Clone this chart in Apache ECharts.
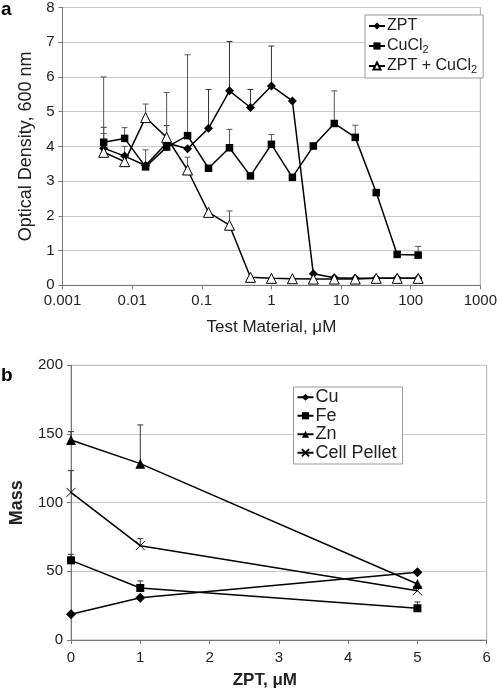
<!DOCTYPE html>
<html>
<head>
<meta charset="utf-8">
<script src="https://cdn.jsdelivr.net/npm/echarts@6/dist/echarts.min.js"></script>
<style>html,body{margin:0;padding:0;background:#fff}#c{width:500px;height:692px}</style>
</head>
<body>
<div id="c"></div>
<script>
// ---------- Panel a data ----------
const concA = [0.0039, 0.0078, 0.0156, 0.0313, 0.0625, 0.125, 0.25, 0.5, 1, 2, 4, 8, 16, 32, 64, 128];
const zptA = [3.95, 3.72, 3.45, 4.1, 3.93, 4.52, 5.60, 5.12, 5.74, 5.31, 0.33, 0.22, 0.20, 0.20, 0.20, 0.20];
const cuA = [4.12, 4.23, 3.41, 3.98, 4.31, 3.37, 3.96, 3.15, 4.06, 3.11, 4.01, 4.66, 4.26, 2.67, 0.89, 0.87];
const mixA = [3.83, 3.56, 4.83, 4.26, 3.32, 2.10, 1.73, 0.23, 0.20, 0.19, 0.18, 0.18, 0.18, 0.20, 0.20, 0.20];
const zptErrTop = [4.55, null, null, 4.6, null, 5.64, 7.02, 5.64, 6.89, null, null, null, null, null, null, null];
const cuErrTop = [6.0, 4.54, 3.9, null, 6.64, null, 4.49, null, 4.34, null, 4.1, 5.6, 4.61, null, null, 1.12];
const mixErrTop = [4.37, 4.0, 5.22, 5.55, 3.69, null, 2.14, null, null, null, null, null, null, null, null, null];
const xTicksA = ['0.001', '0.01', '0.1', '1', '10', '100', '1000'];

// ---------- Panel b data ----------
const zptB = [0, 1, 5];
const cuB = [18.7, 30.8, 49.3];
const feB = [58, 37.9, 23.1];
const feErrTop = [62.4, 43, 27.7];
const znB = [145.6, 128.4, 40.8];
const znErrTop = [151.7, 156.6, null];
const pelletB = [107.5, 68.7, 35.9];
const pelletErrTop = [123.3, 73.8, null];

const FONT = 'Liberation Sans, Arial, sans-serif';
const AX = '#777';
const GRID = '#c8c8c8';

function pairs(xs, ys) { return xs.map((x, i) => [x, ys[i]]); }
function errData(xs, ys, tops) {
  const out = [];
  xs.forEach((x, i) => { if (tops[i] != null) out.push([x, ys[i], tops[i]]); });
  return out;
}
function errSeries(xi, yi, data, color) {
  return {
    type: 'custom', xAxisIndex: xi, yAxisIndex: yi, z: 1, silent: true,
    encode: { x: 0, y: [1, 2] },
    data: data,
    renderItem: function (params, api) {
      const x = api.value(0), y = api.value(1), t = api.value(2);
      const p0 = api.coord([x, y]);
      const p1 = api.coord([x, t]);
      return {
        type: 'group', children: [
          { type: 'line', shape: { x1: p0[0], y1: p0[1], x2: p1[0], y2: p1[1] }, style: { stroke: color, lineWidth: 1 } },
          { type: 'line', shape: { x1: p1[0] - 3, y1: p1[1], x2: p1[0] + 3, y2: p1[1] }, style: { stroke: color, lineWidth: 1 } }
        ]
      };
    }
  };
}
function lineSeries(name, xi, yi, data, symbol, size, filled) {
  return {
    name: name, type: 'line', xAxisIndex: xi, yAxisIndex: yi, z: 3,
    data: data, symbol: symbol, symbolSize: size, showSymbol: true,
    lineStyle: { color: '#000', width: 1.5 },
    itemStyle: filled ? { color: '#000', borderColor: '#000', borderWidth: 0 } : { color: '#fff', borderColor: '#000', borderWidth: 1 },
    emphasis: { disabled: true }
  };
}

const chart = echarts.init(document.getElementById('c'), null, { renderer: 'canvas' });
const crossPath = 'path://M0,0L10,10M10,0L0,10';

const option = {
  animation: false,
  backgroundColor: '#fff',
  textStyle: { fontFamily: FONT },
  graphic: [
    { type: 'text', left: 1, top: 0, style: { text: 'a', font: 'bold 19px ' + FONT, fill: '#000' } },
    { type: 'text', left: 1, top: 366, style: { text: 'b', font: 'bold 19px ' + FONT, fill: '#000' } }
  ],
  grid: [
    { left: 62.5, right: 17, top: 7.3, height: 278, show: true, borderColor: '#aaa', borderWidth: 1, backgroundColor: 'transparent' },
    { left: 59.3, right: 13.3, top: 365.3, height: 274.7, show: true, borderColor: '#aaa', borderWidth: 1, backgroundColor: 'transparent' }
  ],
  xAxis: [
    {
      gridIndex: 0, type: 'log', logBase: 10, min: 0.001, max: 1000,
      axisLine: { lineStyle: { color: AX } },
      axisTick: { show: true, length: 4, lineStyle: { color: AX } },
      minorTick: { show: false },
      splitLine: { show: false },
      axisLabel: {
        color: '#222', fontSize: 15, fontFamily: FONT, margin: 8,
        formatter: v => xTicksA[Math.round(Math.log10(v)) + 3]
      },
      name: 'Test Material, \u03bcM', nameLocation: 'middle', nameGap: 34,
      nameTextStyle: { color: '#222', fontSize: 17, fontFamily: FONT }
    },
    {
      gridIndex: 1, type: 'value', min: 0, max: 6, interval: 1,
      axisLine: { lineStyle: { color: AX } },
      axisTick: { show: true, length: 4, lineStyle: { color: AX } },
      splitLine: { show: false },
      axisLabel: { color: '#222', fontSize: 15, fontFamily: FONT, margin: 10 },
      name: 'ZPT, \u03bcM', nameLocation: 'middle', nameGap: 32,
      nameTextStyle: { color: '#222', fontSize: 17, fontWeight: 'bold', fontFamily: FONT, padding: [0, 28, 0, 0] }
    }
  ],
  yAxis: [
    {
      gridIndex: 0, type: 'value', min: 0, max: 8, interval: 1,
      axisLine: { show: true, lineStyle: { color: AX } },
      axisTick: { show: true, length: 4, lineStyle: { color: AX } },
      splitLine: { show: true, lineStyle: { color: GRID, width: 1 } },
      axisLabel: { color: '#222', fontSize: 15, fontFamily: FONT, margin: 8 },
      name: 'Optical Density, 600 nm', nameLocation: 'middle', nameGap: 27,
      nameTextStyle: { color: '#222', fontSize: 18, fontFamily: FONT }
    },
    {
      gridIndex: 1, type: 'value', min: 0, max: 200, interval: 50,
      axisLine: { show: true, lineStyle: { color: AX } },
      axisTick: { show: true, length: 4, lineStyle: { color: AX } },
      splitLine: { show: true, lineStyle: { color: GRID, width: 1 } },
      axisLabel: { color: '#222', fontSize: 15, fontFamily: FONT, margin: 8 },
      name: 'Mass', nameLocation: 'middle', nameGap: 45,
      nameTextStyle: { color: '#222', fontSize: 18, fontWeight: 'bold', fontFamily: FONT }
    }
  ],
  legend: [
    {
      left: 365, top: 15, orient: 'vertical', itemGap: 2, itemWidth: 16, itemHeight: 9,
      padding: [2, 6, 3, 3], borderColor: '#999', borderWidth: 1, backgroundColor: '#fff',
      data: ['ZPT', 'CuCl2', 'ZPT + CuCl2'],
      formatter: n => n.replace('CuCl2', 'CuCl{s|2}'),
      textStyle: {
        fontSize: 16, fontFamily: FONT, color: '#222', padding: [0, 0, 0, -3], lineHeight: 18,
        rich: { s: { fontSize: 11, fontFamily: FONT, color: '#222', verticalAlign: 'bottom', lineHeight: 18, padding: [5, 0, 0, 0] } }
      }
    },
    {
      left: 293.5, top: 387, orient: 'vertical', itemGap: 0, itemWidth: 16, itemHeight: 9,
      padding: [1, 6, 2, 3], borderColor: '#999', borderWidth: 1, backgroundColor: '#fff',
      data: ['Cu', 'Fe', 'Zn', 'Cell Pellet'],
      textStyle: { fontSize: 18, fontFamily: FONT, color: '#222', padding: [0, 0, 0, -3], lineHeight: 18.5 }
    }
  ],
  series: [
    errSeries(0, 0, errData(concA, zptA, zptErrTop), '#333'),
    errSeries(0, 0, errData(concA, cuA, cuErrTop), '#555'),
    errSeries(0, 0, errData(concA, mixA, mixErrTop), '#555'),
    lineSeries('ZPT', 0, 0, pairs(concA, zptA), 'diamond', 9, true),
    lineSeries('CuCl2', 0, 0, pairs(concA, cuA), 'rect', 7.5, true),
    lineSeries('ZPT + CuCl2', 0, 0, pairs(concA, mixA), 'triangle', 10, false),

    errSeries(1, 1, errData(zptB, feB, feErrTop), '#333'),
    errSeries(1, 1, errData(zptB, znB, znErrTop), '#333'),
    errSeries(1, 1, errData(zptB, pelletB, pelletErrTop), '#333'),
    lineSeries('Cu', 1, 1, pairs(zptB, cuB), 'diamond', 10, true),
    lineSeries('Fe', 1, 1, pairs(zptB, feB), 'rect', 8, true),
    lineSeries('Zn', 1, 1, pairs(zptB, znB), 'triangle', 10, true),
    lineSeries('Cell Pellet', 1, 1, pairs(zptB, pelletB), crossPath, 9, false)
  ]
};
chart.setOption(option);
</script>
</body>
</html>
